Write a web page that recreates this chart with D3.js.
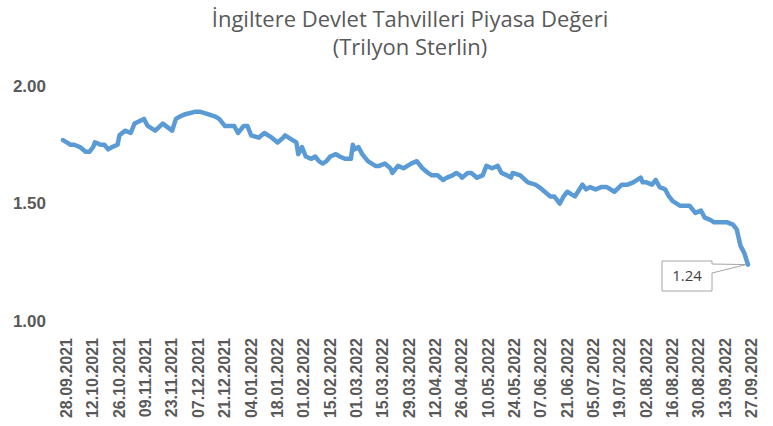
<!DOCTYPE html>
<html lang="tr">
<head>
  <meta charset="UTF-8">
  <title>İngiltere Devlet Tahvilleri</title>
  <style>
    body { margin: 0; background: #fff; }
  </style>
</head>
<body>
  <svg id="svg" width="773" height="426"></svg>
  <script src="https://d3js.org/d3.v7.min.js"></script>
  <script>
    // values
    const dates = [
      '2021-09-28','2021-09-30','2021-10-02','2021-10-04','2021-10-07','2021-10-10','2021-10-12','2021-10-14',
      '2021-10-15','2021-10-18','2021-10-20','2021-10-22','2021-10-24','2021-10-27','2021-10-28','2021-10-31',
      '2021-11-03','2021-11-05','2021-11-10','2021-11-12','2021-11-16','2021-11-20','2021-11-25','2021-11-27',
      '2021-11-29','2021-12-02','2021-12-07','2021-12-10','2021-12-14','2021-12-18','2021-12-20','2021-12-23',
      '2021-12-26','2021-12-28','2021-12-30','2022-01-02','2022-01-04','2022-01-06','2022-01-10','2022-01-13',
      '2022-01-17','2022-01-20','2022-01-23','2022-01-24','2022-01-28','2022-01-30','2022-01-31','2022-02-02',
      '2022-02-04','2022-02-07','2022-02-09','2022-02-11','2022-02-13','2022-02-15','2022-02-17','2022-02-20',
      '2022-02-22','2022-02-25','2022-02-28','2022-03-01','2022-03-02','2022-03-04','2022-03-06','2022-03-09',
      '2022-03-13','2022-03-15','2022-03-18','2022-03-21','2022-03-22','2022-03-25','2022-03-28','2022-03-30',
      '2022-04-01','2022-04-04','2022-04-07','2022-04-10','2022-04-12','2022-04-15','2022-04-18','2022-04-20',
      '2022-04-23','2022-04-25','2022-04-27','2022-04-28','2022-05-01','2022-05-03','2022-05-06','2022-05-09',
      '2022-05-11','2022-05-14','2022-05-17','2022-05-19','2022-05-22','2022-05-24','2022-05-25','2022-05-29',
      '2022-06-02','2022-06-06','2022-06-08','2022-06-11','2022-06-14','2022-06-16','2022-06-19','2022-06-21',
      '2022-06-23','2022-06-25','2022-06-27','2022-07-01','2022-07-03','2022-07-05','2022-07-08','2022-07-11',
      '2022-07-14','2022-07-18','2022-07-22','2022-07-25','2022-07-28','2022-08-01','2022-08-02','2022-08-04',
      '2022-08-07','2022-08-09','2022-08-11','2022-08-14','2022-08-16','2022-08-18','2022-08-22','2022-08-25',
      '2022-08-27','2022-08-30','2022-09-02','2022-09-04','2022-09-07','2022-09-09','2022-09-13','2022-09-16',
      '2022-09-19','2022-09-21','2022-09-23','2022-09-25','2022-09-27'
    ]
    const values = [
      1.77,1.76,1.75,1.75,1.74,1.72,1.72,1.74,
      1.76,1.75,1.75,1.73,1.74,1.75,1.79,1.81,
      1.80,1.84,1.86,1.83,1.81,1.84,1.81,1.86,
      1.87,1.88,1.89,1.89,1.88,1.87,1.86,1.83,
      1.83,1.83,1.80,1.83,1.83,1.79,1.78,1.80,
      1.78,1.76,1.78,1.79,1.77,1.76,1.71,1.74,
      1.70,1.69,1.70,1.68,1.67,1.68,1.70,1.71,
      1.70,1.69,1.69,1.75,1.73,1.74,1.71,1.68,
      1.66,1.66,1.67,1.65,1.63,1.66,1.65,1.66,
      1.67,1.68,1.65,1.63,1.62,1.62,1.60,1.61,
      1.62,1.63,1.62,1.61,1.63,1.63,1.61,1.62,
      1.66,1.65,1.66,1.63,1.62,1.61,1.63,1.62,
      1.59,1.58,1.57,1.55,1.53,1.53,1.50,1.53,
      1.55,1.54,1.53,1.58,1.56,1.57,1.56,1.57,
      1.57,1.55,1.58,1.58,1.59,1.61,1.59,1.59,
      1.58,1.60,1.57,1.56,1.53,1.51,1.49,1.49,
      1.49,1.46,1.47,1.44,1.43,1.42,1.42,1.42,
      1.41,1.39,1.32,1.29,1.24
    ]
    const tickLabels = [
      '28.09.2021','12.10.2021','26.10.2021','09.11.2021','23.11.2021','07.12.2021','21.12.2021',
      '04.01.2022','18.01.2022','01.02.2022','15.02.2022','01.03.2022','15.03.2022','29.03.2022',
      '12.04.2022','26.04.2022','10.05.2022','24.05.2022','07.06.2022','21.06.2022','05.07.2022',
      '19.07.2022','02.08.2022','16.08.2022','30.08.2022','13.09.2022','27.09.2022'
    ]
    const yTicks = [1.00, 1.50, 2.00]
    const titleLines = ['İngiltere Devlet Tahvilleri Piyasa Değeri', '(Trilyon Sterlin)']

    const parseIso = d3.timeParse('%Y-%m-%d')
    const parseTick = d3.timeParse('%d.%m.%Y')
    const data = dates.map((d, i) => ({ date: parseIso(d), value: values[i] }))

    const svg = d3.select('#svg')
    const font = '"Liberation Sans", Arial, sans-serif'
    const grey = '#595959'

    const xScale = d3.scaleTime()
      .domain([parseIso(dates[0]), parseIso(dates[dates.length - 1])])
      .range([63, 748])
    const yScale = d3.scaleLinear()
      .domain([1, 2])
      .range([321, 86])

    // title
    svg.selectAll('text.title')
      .data(titleLines)
      .enter()
      .append('text')
      .attr('class', 'title')
      .attr('x', 410)
      .attr('y', (d, i) => 27 + i * 28)
      .attr('text-anchor', 'middle')
      .style('font-family', '"Open Sans", sans-serif')
      .style('font-size', '22px')
      .style('fill', grey)
      .text(d => d)

    // y axis labels (no line)
    const leftAxis = d3.axisLeft(yScale)
      .tickValues(yTicks)
      .tickFormat(d3.format('.2f'))
      .tickSize(0)
      .tickPadding(0)
    const gy = svg.append('g')
      .attr('transform', 'translate(46, 0)')
      .call(leftAxis)
    gy.select('.domain').remove()
    gy.selectAll('text')
      .style('font-family', font)
      .style('font-weight', 'bold')
      .style('font-size', '17px')
      .style('fill', grey)

    // x axis labels, rotated
    const bottomAxis = d3.axisBottom(xScale)
      .tickValues(tickLabels.map(parseTick))
      .tickFormat(d3.timeFormat('%d.%m.%Y'))
      .tickSize(0)
    const gx = svg.append('g')
      .attr('transform', 'translate(0, 321)')
      .call(bottomAxis)
    gx.select('.domain').remove()
    gx.selectAll('text')
      .attr('transform', 'rotate(-90)')
      .attr('x', -17)
      .attr('y', 3)
      .attr('dy', '0.35em')
      .attr('text-anchor', 'end')
      .style('font-family', font)
      .style('font-weight', 'bold')
      .style('font-size', '16px')
      .style('fill', grey)

    // line
    const line = d3.line()
      .x(d => xScale(d.date))
      .y(d => yScale(d.value))
    svg.append('path')
      .datum(data)
      .attr('d', line)
      .attr('fill', 'none')
      .attr('stroke', '#5b9bd5')
      .attr('stroke-width', 4.5)
      .attr('stroke-linejoin', 'round')
      .attr('stroke-linecap', 'round')

    // data label callout for the last point
    const last = data[data.length - 1]
    const px = xScale(last.date)
    const py = yScale(last.value)
    const bx = 662, by = 261, bw = 50, bh = 30
    const callout = d3.path()
    callout.moveTo(bx, by)
    callout.lineTo(bx + bw, by)
    callout.lineTo(bx + bw, by + 3)
    callout.lineTo(px - 2, py)
    callout.lineTo(bx + bw, by + 12)
    callout.lineTo(bx + bw, by + bh)
    callout.lineTo(bx, by + bh)
    callout.closePath()
    svg.append('path')
      .attr('d', callout.toString())
      .attr('fill', '#fff')
      .attr('stroke', '#a6a6a6')
      .attr('stroke-width', 1)
    svg.append('text')
      .attr('x', bx + bw / 2)
      .attr('y', by + bh / 2)
      .attr('dy', '0.35em')
      .attr('text-anchor', 'middle')
      .style('font-family', '"Open Sans", sans-serif')
      .style('font-size', '15px')
      .style('fill', '#404040')
      .text(d3.format('.2f')(last.value))
  </script>
</body>
</html>
